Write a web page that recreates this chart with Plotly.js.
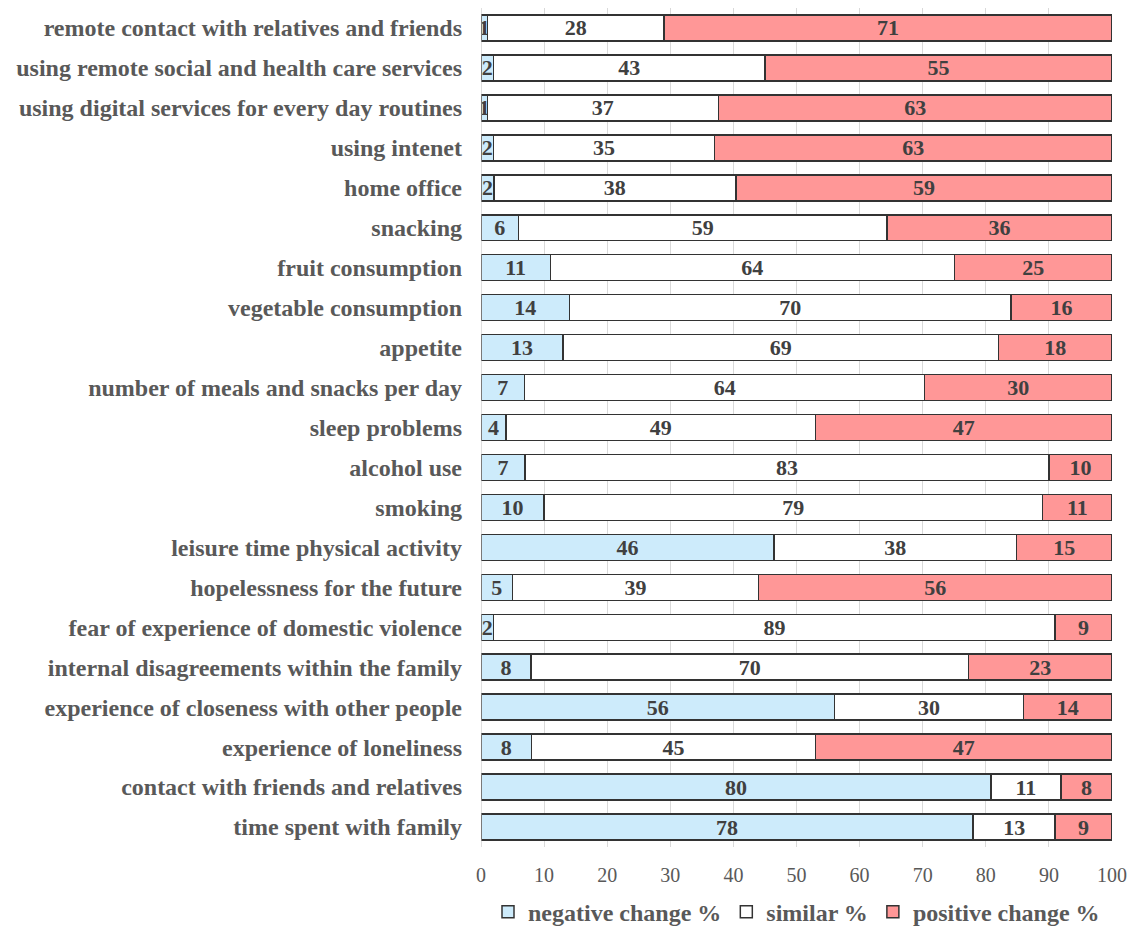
<!DOCTYPE html>
<html>
<head>
<meta charset="utf-8">
<script src="https://cdn.plot.ly/plotly-3.0.1.min.js"></script>
<style>html,body{margin:0;padding:0;background:#fff;}#chart{width:1137px;height:926px;}</style>
</head>
<body>
<div id="chart"></div>
<script>
const categories = [
  "remote contact with relatives and friends",
  "using remote social and health care services",
  "using digital services for every day routines",
  "using intenet",
  "home office",
  "snacking",
  "fruit consumption",
  "vegetable consumption",
  "appetite",
  "number of meals and snacks per day",
  "sleep problems",
  "alcohol use",
  "smoking",
  "leisure time physical activity",
  "hopelessness for the future",
  "fear of experience of domestic violence",
  "internal disagreements within the family",
  "experience of closeness with other people",
  "experience of loneliness",
  "contact with friends and relatives",
  "time spent with family"
];
const negativeChange = [1, 2, 1, 2, 2, 6, 11, 14, 13, 7, 4, 7, 10, 46, 5, 2, 8, 56, 8, 80, 78];
const similar        = [28, 43, 37, 35, 38, 59, 64, 70, 69, 64, 49, 83, 79, 38, 39, 89, 70, 30, 45, 11, 13];
const positiveChange = [71, 55, 63, 63, 59, 36, 25, 16, 18, 30, 47, 10, 11, 15, 56, 9, 23, 14, 47, 8, 9];
const seriesNames = ["negative change %", "similar %", "positive change %"];
const seriesColors = ["#CDEBFB", "#FFFFFF", "#FF9797"];

const serif = "Liberation Serif, Times New Roman, serif";
const allSeries = [negativeChange, similar, positiveChange];

const traces = allSeries.map((vals, i) => ({
  type: "bar",
  orientation: "h",
  name: seriesNames[i],
  y: categories,
  x: vals,
  text: vals.map(String),
  textposition: "inside",
  insidetextanchor: "middle",
  constraintext: "none",
  textangle: 0,
  insidetextfont: {family: serif, size: 22, color: "#404040", weight: "bold"},
  marker: {color: seriesColors[i], line: {color: "#333333", width: 1.5}},
  hoverinfo: "x+y"
}));

const layout = {
  width: 1137,
  height: 926,
  barmode: "stack",
  barnorm: "percent",
  bargap: 0.35,
  margin: {l: 481, r: 25, t: 8, b: 79, autoexpand: false},
  paper_bgcolor: "#ffffff",
  plot_bgcolor: "#ffffff",
  showlegend: true,
  legend: {
    orientation: "h",
    xref: "paper", yref: "container",
    x: 0.5, xanchor: "center",
    y: 0.015, yanchor: "middle",
    font: {family: serif, size: 24, color: "#595959", weight: "bold"},
    traceorder: "normal",
    itemwidth: 30
  },
  xaxis: {
    range: [0, 100],
    dtick: 10,
    tick0: 0,
    showgrid: true,
    gridcolor: "#D9D9D9",
    gridwidth: 1,
    zeroline: false,
    showline: false,
    ticks: "",
    ticklabelstandoff: 14,
    tickfont: {family: serif, size: 20, color: "#595959"},
    fixedrange: true
  },
  yaxis: {
    type: "category",
    autorange: "reversed",
    showgrid: false,
    zeroline: false,
    showline: false,
    ticks: "",
    ticklabelstandoff: 18,
    tickfont: {family: serif, size: 24, color: "#595959", weight: "bold"},
    fixedrange: true
  },
  shapes: [{
    type: "line", xref: "x", yref: "paper",
    x0: 0, x1: 0, y0: 0, y1: 1,
    line: {color: "#BFBFBF", width: 1}
  }]
};

Plotly.newPlot("chart", traces, layout, {displayModeBar: false, staticPlot: true});
</script>
</body>
</html>
